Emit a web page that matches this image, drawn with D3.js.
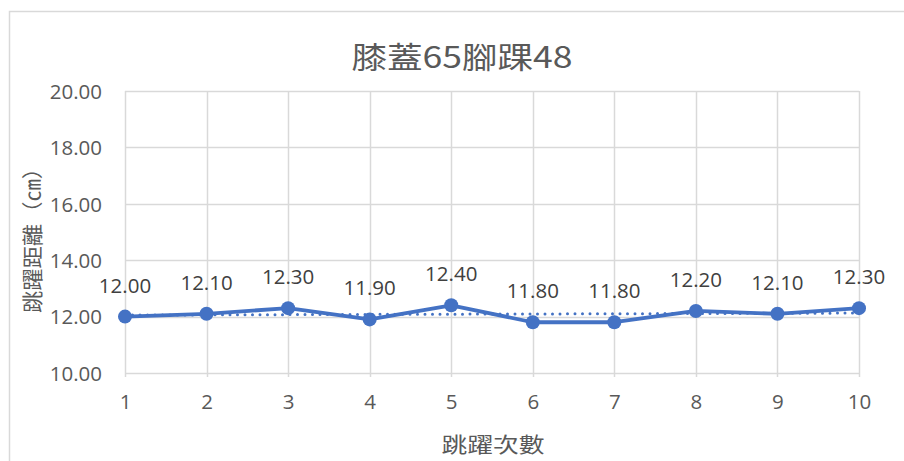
<!DOCTYPE html>
<html>
<head>
<meta charset="utf-8">
<script src="https://cdn.jsdelivr.net/npm/d3@7"></script>
<style>
  html, body { margin: 0; padding: 0; background: #fff; }
  svg { display: block; }
</style>
</head>
<body>
<svg id="chart" width="904" height="461"></svg>
<script>
// Jump distances for each trial
const trials = [1, 2, 3, 4, 5, 6, 7, 8, 9, 10];
const distances = [12.00, 12.10, 12.30, 11.90, 12.40, 11.80, 11.80, 12.20, 12.10, 12.30];
const yTicks = [10, 12, 14, 16, 18, 20];

const titleText = "膝蓋65腳踝48";
const yTitle = "跳躍距離（㎝）";
const xTitle = "跳躍次數";

const blue = "#4472C4";
const grid = "#d9d9d9";
const textGray = "#595959";
const labelGray = "#404040";
const numFont = "'Open Sans', 'Liberation Sans', sans-serif";
const cjkFont = "'Noto Sans CJK TC', 'Noto Sans CJK SC', sans-serif";

const svg = d3.select("#chart");

// Chart frame
svg.append("rect")
  .attr("x", 9.5).attr("y", 11.5)
  .attr("width", 920).attr("height", 470)
  .attr("fill", "#fff")
  .attr("stroke", grid).attr("stroke-width", 1.5);

const x = d3.scalePoint().domain(trials).range([125, 859]);
const y = d3.scaleLinear().domain([10, 20]).range([373, 91]);

// Horizontal gridlines
svg.append("g")
  .selectAll("line")
  .data(yTicks)
  .join("line")
  .attr("x1", x(trials[0])).attr("x2", x(trials[trials.length - 1]))
  .attr("y1", d => Math.round(y(d)) + 0.5).attr("y2", d => Math.round(y(d)) + 0.5)
  .attr("stroke", grid).attr("stroke-width", 1.5);

// Vertical gridlines at each trial
svg.append("g")
  .selectAll("line")
  .data(trials)
  .join("line")
  .attr("x1", d => Math.round(x(d)) + 0.5).attr("x2", d => Math.round(x(d)) + 0.5)
  .attr("y1", y(20)).attr("y2", y(10) + 4)
  .attr("stroke", grid).attr("stroke-width", 1.5);

// Y axis tick labels
const yAxis = d3.axisLeft(y).tickValues(yTicks).tickFormat(d3.format(".2f")).tickSize(0).tickPadding(23);
svg.append("g")
  .attr("transform", `translate(${x(trials[0])},0)`)
  .call(yAxis)
  .call(g => g.select(".domain").remove())
  .call(g => g.selectAll("text")
    .attr("fill", textGray)
    .attr("font-family", numFont)
    .attr("font-size", 20.5)
    .attr("dy", "0.36em"));

// X axis tick labels
const xAxis = d3.axisBottom(x).tickSize(0).tickPadding(21);
svg.append("g")
  .attr("transform", `translate(0,${y(10)})`)
  .call(xAxis)
  .call(g => g.select(".domain").remove())
  .call(g => g.selectAll("text")
    .attr("fill", textGray)
    .attr("font-family", numFont)
    .attr("font-size", 20.5));

// Series line
const line = d3.line().x((d, i) => x(trials[i])).y(d => y(d));
svg.append("path")
  .datum(distances)
  .attr("d", line)
  .attr("fill", "none")
  .attr("stroke", blue)
  .attr("stroke-width", 3.8)
  .attr("stroke-linejoin", "round");

// Linear trendline (least squares)
const mx = d3.mean(trials), my = d3.mean(distances);
const slope = d3.sum(trials, (t, i) => (t - mx) * (distances[i] - my)) / d3.sum(trials, t => (t - mx) ** 2);
const intercept = my - slope * mx;
const tEnds = [trials[0], trials[trials.length - 1]];
svg.append("line")
  .attr("x1", x(tEnds[0])).attr("y1", y(intercept + slope * tEnds[0]))
  .attr("x2", x(tEnds[1])).attr("y2", y(intercept + slope * tEnds[1]))
  .attr("stroke", blue)
  .attr("stroke-width", 3)
  .attr("stroke-linecap", "round")
  .attr("stroke-dasharray", "0 7.5");

// Markers
svg.append("g")
  .selectAll("circle")
  .data(distances)
  .join("circle")
  .attr("cx", (d, i) => x(trials[i]))
  .attr("cy", d => y(d))
  .attr("r", 7)
  .attr("fill", blue);

// Value labels
svg.append("g")
  .selectAll("text")
  .data(distances)
  .join("text")
  .attr("x", (d, i) => x(trials[i]))
  .attr("y", d => y(d) - 24)
  .attr("text-anchor", "middle")
  .attr("fill", labelGray)
  .attr("font-family", numFont)
  .attr("font-size", 20.5)
  .text(d => d3.format(".2f")(d));

// Title
svg.append("text")
  .attr("x", 462).attr("y", 68)
  .attr("text-anchor", "middle")
  .attr("fill", textGray)
  .attr("font-family", cjkFont)
  .attr("font-size", 30)
  .attr("textLength", 221)
  .attr("lengthAdjust", "spacingAndGlyphs")
  .text(titleText);

// Axis titles
svg.append("text")
  .attr("transform", "translate(40,235) rotate(-90)")
  .attr("text-anchor", "middle")
  .attr("fill", textGray)
  .attr("font-family", cjkFont)
  .attr("font-size", 21)
  .attr("textLength", 156)
  .attr("lengthAdjust", "spacingAndGlyphs")
  .text(yTitle);

svg.append("text")
  .attr("x", 493).attr("y", 452)
  .attr("text-anchor", "middle")
  .attr("fill", textGray)
  .attr("font-family", cjkFont)
  .attr("font-size", 21)
  .attr("textLength", 103)
  .attr("lengthAdjust", "spacingAndGlyphs")
  .text(xTitle);
</script>
</body>
</html>
